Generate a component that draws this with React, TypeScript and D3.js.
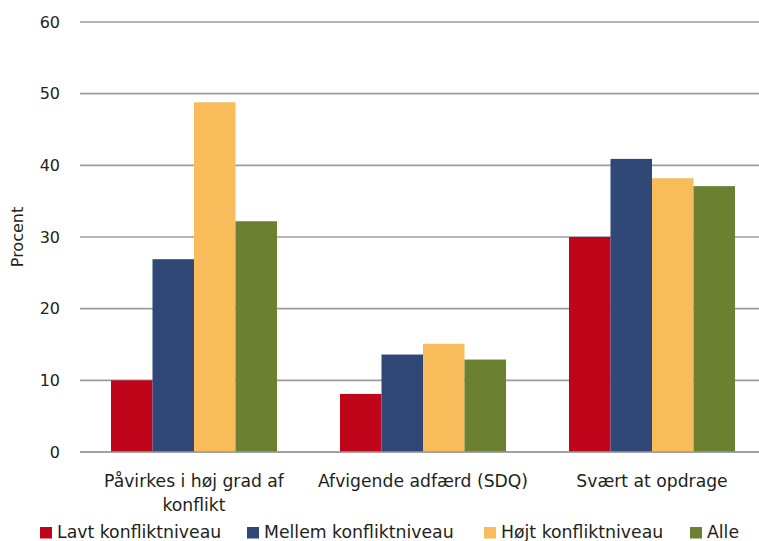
import React from "react";
import * as d3 from "d3";

const categories = [["Påvirkes i høj grad af", "konflikt"], ["Afvigende adfærd (SDQ)"], ["Svært at opdrage"]];
const seriesNames = ["Lavt konfliktniveau", "Mellem konfliktniveau", "Højt konfliktniveau", "Alle"];
const seriesColors = ["#BE0519", "#2F4877", "#F9BC5B", "#6B8131"];
const lavt = [10, 8.1, 30];
const mellem = [26.9, 13.6, 40.9];
const hoejt = [48.8, 15.1, 38.2];
const alle = [32.2, 12.9, 37.1];
const yTicks = [0, 10, 20, 30, 40, 50, 60];

const W = 759, H = 541;
const FONT = "'DejaVu Sans', sans-serif";
const TXT = "#231F20";

export default function App() {
  const series = [lavt, mellem, hoejt, alle];
  const y = d3.scaleLinear().domain([0, 60]).range([452, 22]);
  const x0 = d3.scaleBand<number>().domain([0, 1, 2]).range([79.5, 766.5])
    .paddingInner(63 / 229).paddingOuter(31.5 / 229);
  const x1 = d3.scaleBand<number>().domain([0, 1, 2, 3]).range([0, x0.bandwidth()]);
  const legendX = [40, 247, 484, 690];
  return (
    <svg width={W} height={H} style={{ position: "absolute", left: 0, top: 0 }}>
      <rect width={W} height={H} fill="#fff" />
      {yTicks.map((t) => (
        <g key={t}>
          <line x1={80} x2={W} y1={y(t)} y2={y(t)} stroke="#9B9B9B" strokeWidth={1.6} />
          <text x={60} y={y(t)} dy="0.36em" textAnchor="end" fontFamily={FONT} fontSize={16} fill={TXT}>{t}</text>
        </g>
      ))}
      <text transform={`translate(23,237) rotate(-90)`} textAnchor="middle" fontFamily={FONT} fontSize={16} fill={TXT}>Procent</text>
      {series.map((vals, si) => vals.map((v, ci) => (
        <rect key={`${si}-${ci}`} x={(x0(ci) as number) + (x1(si) as number)} y={y(v)}
          width={x1.bandwidth()} height={y(0) - y(v)} fill={seriesColors[si]} />
      )))}
      <line x1={80} x2={W} y1={y(0)} y2={y(0)} stroke="#9B9B9B" strokeWidth={1.6} />
      {categories.map((lines, ci) => (
        <text key={ci} x={(x0(ci) as number) + x0.bandwidth() / 2} y={487} textAnchor="middle" fontFamily={FONT} fontSize={17.2} fill={TXT}>
          {lines.map((l, li) => (
            <tspan key={li} x={(x0(ci) as number) + x0.bandwidth() / 2} dy={li === 0 ? 0 : 24}>{l}</tspan>
          ))}
        </text>
      ))}
      {seriesNames.map((n, i) => (
        <g key={n}>
          <rect x={legendX[i]} y={527} width={12} height={11.5} fill={seriesColors[i]} />
          <text x={legendX[i] + 17} y={538} fontFamily={FONT} fontSize={17.3} fill={TXT}>{n}</text>
        </g>
      ))}
    </svg>
  );
}
